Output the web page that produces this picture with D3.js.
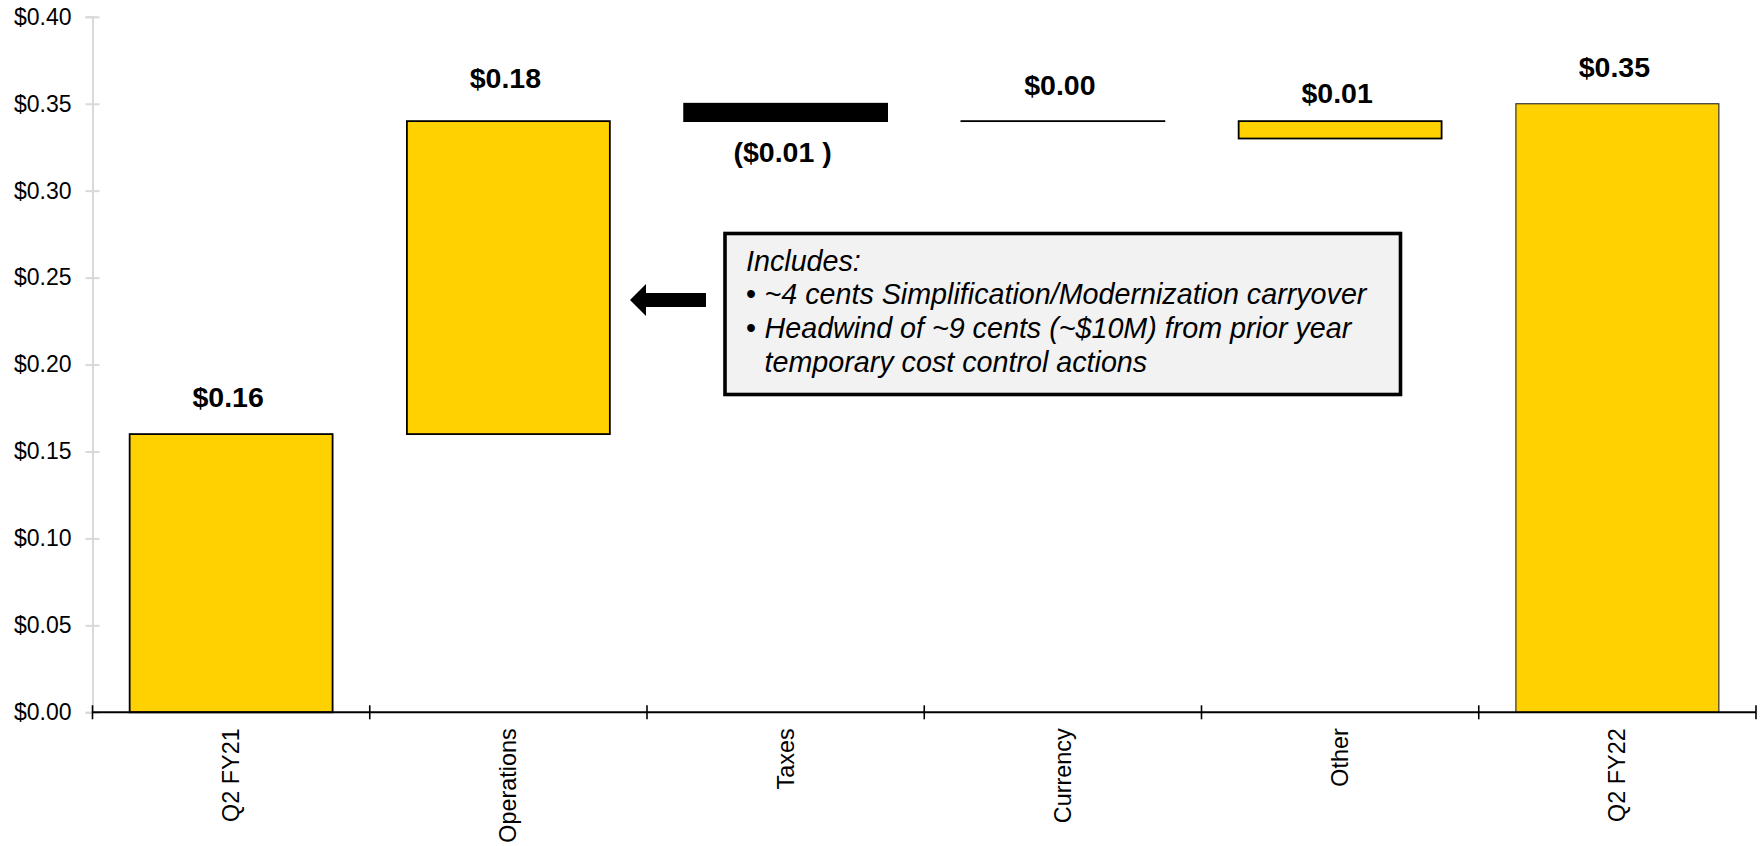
<!DOCTYPE html>
<html>
<head>
<meta charset="utf-8">
<script src="https://cdn.jsdelivr.net/npm/d3@7"></script>
<style>
  html, body { margin: 0; padding: 0; background: #fff; }
  svg { display: block; }
  text { font-family: "Liberation Sans", Arial, Helvetica, sans-serif; fill: #000; }
</style>
</head>
<body>
<svg id="chart" width="1763" height="846"></svg>
<script>
// ---- data ----
const categories = ["Q2 FY21", "Operations", "Taxes", "Currency", "Other", "Q2 FY22"];
const barLow  = [0.00, 0.16, 0.34, 0.34, 0.33, 0.00];
const barHigh = [0.16, 0.34, 0.35, 0.34, 0.34, 0.35];
const barKind = ["total", "up", "down", "up", "up", "total"];
const valueLabels = ["$0.16", "$0.18", "($0.01 )", "$0.00", "$0.01", "$0.35"];
const yTickValues = [0.00, 0.05, 0.10, 0.15, 0.20, 0.25, 0.30, 0.35, 0.40];
const calloutTitle = "Includes:";
const calloutBullets = [
  ["~4 cents Simplification/Modernization carryover"],
  ["Headwind of ~9 cents (~$10M) from prior year", "temporary cost control actions"]
];

// ---- styles ----
const YELLOW = "#FFD100";
const labelGap = [27.5, 33, 0, 26.5, 18, 27]; // distance from bar top to label baseline

const svg = d3.select("#chart");

const x = d3.scaleBand()
  .domain(categories)
  .range([92.5, 1756])
  .paddingInner(0.268)
  .paddingOuter(0.134);

const y = d3.scaleLinear().domain([0, 0.40]).range([712.3, 16.8]);

// ---- y axis ----
const yAxis = svg.append("g")
  .attr("transform", `translate(${x.range()[0]},0)`)
  .call(d3.axisLeft(y).tickValues(yTickValues).tickFormat(d => "$" + d.toFixed(2)).tickSize(7).tickPadding(14));
yAxis.select(".domain").attr("stroke", "#d9d9d9").attr("stroke-width", 2);
yAxis.selectAll(".tick line").attr("stroke", "#d9d9d9").attr("stroke-width", 2).attr("x1", -7).attr("x2", 7);
yAxis.selectAll(".tick text")
  .attr("font-size", 23).attr("fill", "#000")
  .style("font-family", '"Liberation Sans", Arial, sans-serif');

// ---- bars ----
const bars = svg.append("g");
categories.forEach((c, i) => {
  const top = y(barHigh[i]), bot = y(barLow[i]);
  const k = barKind[i];
  bars.append("rect")
    .attr("x", x(c))
    .attr("y", top)
    .attr("width", x.bandwidth())
    .attr("height", Math.max(bot - top, 0.01))
    .attr("fill", k === "down" ? "#000" : YELLOW)
    .attr("stroke", i === categories.length - 1 ? "#333" : "#000")
    .attr("stroke-width", i === categories.length - 1 ? 1.2 : 1.8);
});

// ---- x axis ----
const xAxisY = y(0);
const xAxis = svg.append("g").attr("transform", `translate(0,${xAxisY})`);
xAxis.append("line")
  .attr("x1", x.range()[0]).attr("x2", x.range()[1])
  .attr("stroke", "#000").attr("stroke-width", 2);
const boundaries = d3.range(categories.length + 1).map(i => x.range()[0] + i * x.step());
xAxis.selectAll(".bt").data(boundaries).enter().append("line")
  .attr("x1", d => d).attr("x2", d => d)
  .attr("y1", -7).attr("y2", 7)
  .attr("stroke", "#000").attr("stroke-width", 1.6);

const xLab = svg.append("g")
  .attr("transform", `translate(0,${xAxisY})`)
  .call(d3.axisBottom(x).tickSize(0).tickPadding(0));
xLab.select(".domain").remove();
xLab.selectAll(".tick text")
  .attr("font-size", 23.4).attr("fill", "#000")
  .style("font-family", '"Liberation Sans", Arial, sans-serif')
  .attr("text-anchor", "end")
  .attr("dy", null)
  .attr("y", 0)
  .attr("transform", "translate(8,16) rotate(-90)");

// ---- value labels ----
const lab = svg.append("g");
categories.forEach((c, i) => {
  const cx = x(c) + x.bandwidth() / 2 - 3;
  let by;
  if (barKind[i] === "down") by = y(barLow[i]) + 41;
  else by = y(barHigh[i]) - labelGap[i];
  lab.append("text")
    .attr("x", cx).attr("y", by)
    .attr("text-anchor", "middle")
    .attr("font-size", 28.5)
    .attr("font-weight", "bold")
    .text(valueLabels[i]);
});

// ---- callout ----
const callout = svg.append("g");
callout.append("rect")
  .attr("x", 725).attr("y", 233.5)
  .attr("width", 675.5).attr("height", 161)
  .attr("fill", "#f2f2f2")
  .attr("stroke", "#000").attr("stroke-width", 3.6);

const fs = 28.7;
const tx = 746, indentX = 764.5, lh = 33.7, firstBase = 270.5;
callout.append("text")
  .attr("x", tx).attr("y", firstBase)
  .attr("font-size", fs).attr("font-style", "italic")
  .text(calloutTitle);
let line = 1;
calloutBullets.forEach(b => {
  b.forEach((t, j) => {
    const by = firstBase + line * lh;
    if (j === 0) {
      callout.append("text")
        .attr("x", tx).attr("y", by)
        .attr("font-size", fs)
        .text("\u2022");
    }
    callout.append("text")
      .attr("x", indentX).attr("y", by)
      .attr("font-size", fs).attr("font-style", "italic")
      .text(t);
    line++;
  });
});

// arrow pointing left to the Operations bar
const ay = 300;
callout.append("path")
  .attr("d", `M630,${ay} L646,${ay - 16} L646,${ay - 7} L706,${ay - 7} L706,${ay + 7} L646,${ay + 7} L646,${ay + 16} Z`)
  .attr("fill", "#000");
</script>
</body>
</html>
